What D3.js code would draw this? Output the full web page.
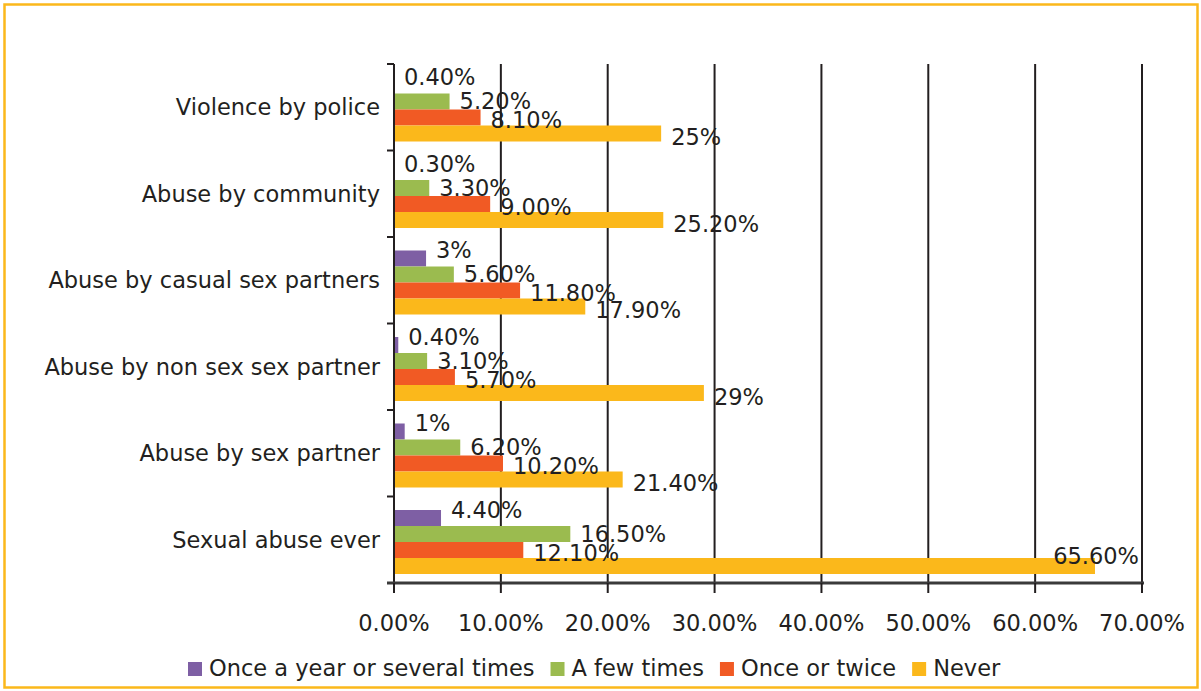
<!DOCTYPE html>
<html>
<head>
  <title>Abuse frequency chart</title>
  <style>
    body {
      margin: 0;
      padding: 0;
      background-color: #fff;
      overflow: hidden;
    }
    text {
      font-family: "DejaVu Sans", sans-serif;
      font-size: 22.5px;
      fill: #231f20;
    }
  </style>
</head>
<body>
  <div id="chart"></div>

  <script src="https://d3js.org/d3.v7.min.js"></script>
  <script>
    const categories = [
      'Violence by police',
      'Abuse by community',
      'Abuse by casual sex partners',
      'Abuse by non sex sex partner',
      'Abuse by sex partner',
      'Sexual abuse ever'
    ];
    const seriesNames = ['Once a year or several times', 'A few times', 'Once or twice', 'Never'];

    // bar lengths (%) as drawn in the picture
    const onceYear = [0, 0, 3, 0.4, 1, 4.4];
    const fewTimes = [5.2, 3.3, 5.6, 3.1, 6.2, 16.5];
    const onceTwice = [8.1, 9.0, 11.8, 5.7, 10.2, 12.1];
    const never = [25, 25.2, 17.9, 29, 21.4, 65.6];

    // data label texts as printed
    const onceYearLabels = ['0.40%', '0.30%', '3%', '0.40%', '1%', '4.40%'];
    const fewTimesLabels = ['5.20%', '3.30%', '5.60%', '3.10%', '6.20%', '16.50%'];
    const onceTwiceLabels = ['8.10%', '9.00%', '11.80%', '5.70%', '10.20%', '12.10%'];
    const neverLabels = ['25%', '25.20%', '17.90%', '29%', '21.40%', '65.60%'];

    const xTicks = [0, 10, 20, 30, 40, 50, 60, 70];
    const colors = ['#7e5fa4', '#9bbb4f', '#f15a24', '#fbb81b'];

    const values = [onceYear, fewTimes, onceTwice, never];
    const labels = [onceYearLabels, fewTimesLabels, onceTwiceLabels, neverLabels];

    const W = 1201, H = 691;
    const plotL = 394, plotR = 1142, plotT = 64, plotB = 583;

    const svg = d3.select('#chart')
      .append('svg')
      .attr('width', W)
      .attr('height', H);

    // outer frame
    svg.append('rect')
      .attr('x', 4.5).attr('y', 4.5)
      .attr('width', W - 8).attr('height', H - 8)
      .attr('fill', 'none')
      .attr('stroke', '#fbb81b')
      .attr('stroke-width', 2.5);

    const x = d3.scaleLinear().domain([0, 70]).range([plotL, plotR]);
    const y = d3.scaleBand().domain(categories).range([plotT, plotB]);
    const yInner = d3.scaleBand().domain(d3.range(4)).range([13.5, 77.5]);

    // vertical grid lines
    svg.append('g')
      .selectAll('line')
      .data(xTicks.slice(1))
      .enter().append('line')
      .attr('x1', d => x(d)).attr('x2', d => x(d))
      .attr('y1', plotT).attr('y2', plotB)
      .attr('stroke', '#231f20').attr('stroke-width', 2);

    // bars
    const rows = [];
    categories.forEach((c, i) => {
      values.forEach((s, j) => rows.push({ cat: c, s: j, v: s[i], label: labels[j][i] }));
    });

    svg.append('g')
      .selectAll('rect')
      .data(rows)
      .enter().append('rect')
      .attr('x', x(0))
      .attr('y', d => y(d.cat) + yInner(d.s))
      .attr('width', d => x(d.v) - x(0))
      .attr('height', yInner.bandwidth())
      .attr('fill', d => colors[d.s]);

    // value labels
    const shift = [-8, 0, 3, 4];
    svg.append('g')
      .selectAll('text')
      .data(rows)
      .enter().append('text')
      .each(function (d) {
        const t = d3.select(this).text(d.label);
        const cy = y(d.cat) + yInner(d.s) + yInner.bandwidth() / 2 + shift[d.s];
        const lx = x(d.v) + 10;
        const w = this.getComputedTextLength();
        if (lx + w > plotR) {
          t.attr('x', plotR - 3).attr('text-anchor', 'end')
            .attr('y', cy - 14).attr('dy', '0.35em');
        } else {
          t.attr('x', lx).attr('y', cy).attr('dy', '0.35em');
        }
      });

    // y axis
    const yAxis = svg.append('g');
    yAxis.append('line')
      .attr('x1', plotL).attr('x2', plotL)
      .attr('y1', plotT).attr('y2', plotB)
      .attr('stroke', '#231f20').attr('stroke-width', 2);
    yAxis.selectAll('line.tick')
      .data(d3.range(categories.length + 1))
      .enter().append('line')
      .attr('class', 'tick')
      .attr('x1', plotL - 7).attr('x2', plotL)
      .attr('y1', i => plotT + i * y.step()).attr('y2', i => plotT + i * y.step())
      .attr('stroke', '#231f20').attr('stroke-width', 2);
    yAxis.selectAll('text')
      .data(categories)
      .enter().append('text')
      .attr('x', plotL - 14)
      .attr('y', d => y(d) + y.bandwidth() / 2)
      .attr('dy', '0.35em')
      .attr('text-anchor', 'end')
      .text(d => d);

    // x axis
    const xAxis = svg.append('g');
    xAxis.append('line')
      .attr('x1', plotL - 7).attr('x2', plotR + 2)
      .attr('y1', plotB).attr('y2', plotB)
      .attr('stroke', '#3a3a3a').attr('stroke-width', 3);
    xAxis.selectAll('line.tick')
      .data(xTicks)
      .enter().append('line')
      .attr('class', 'tick')
      .attr('x1', d => x(d)).attr('x2', d => x(d))
      .attr('y1', plotB).attr('y2', plotB + 10)
      .attr('stroke', '#231f20').attr('stroke-width', 2);
    xAxis.selectAll('text')
      .data(xTicks)
      .enter().append('text')
      .attr('x', d => x(d))
      .attr('y', 631)
      .attr('text-anchor', 'middle')
      .text(d => d.toFixed(2) + '%');

    // legend
    const legend = svg.append('g');
    let legX = 188;
    seriesNames.forEach((name, i) => {
      legend.append('rect')
        .attr('x', legX).attr('y', 662)
        .attr('width', 14).attr('height', 14)
        .attr('fill', colors[i]);
      const t = legend.append('text')
        .attr('x', legX + 21).attr('y', 676)
        .text(name);
      legX += 21 + t.node().getComputedTextLength() + 16;
    });
  </script>
</body>
</html>
